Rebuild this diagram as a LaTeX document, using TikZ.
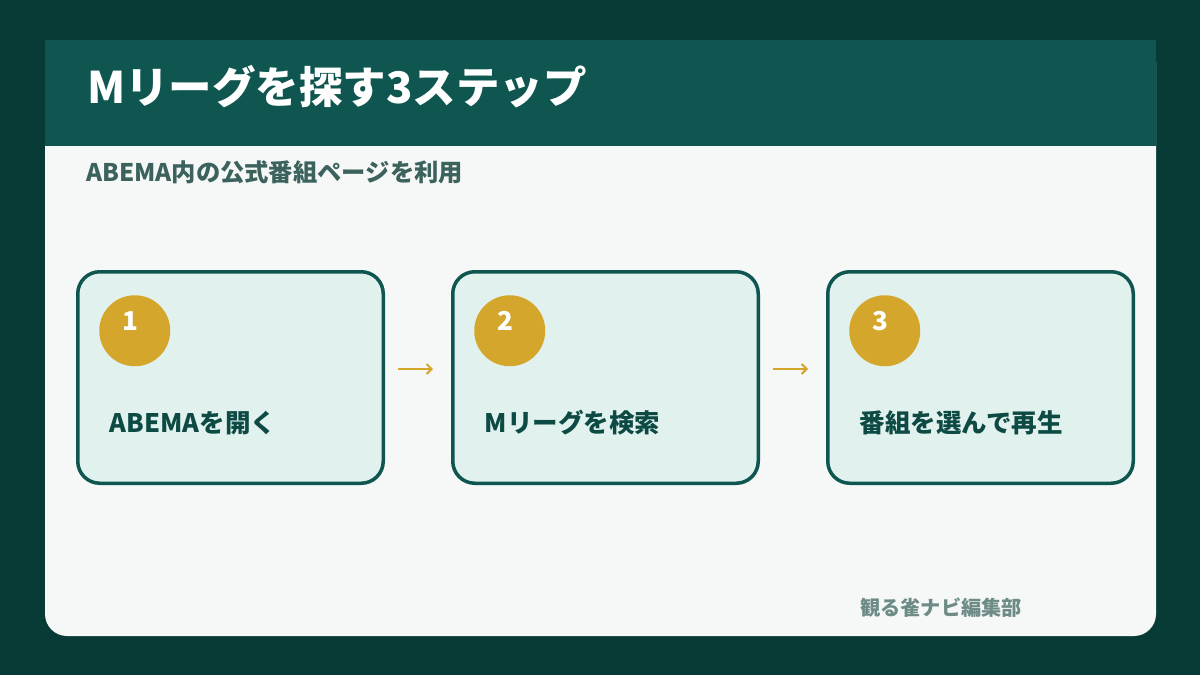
\documentclass[tikz,border=0pt]{standalone}
\usepackage{fontspec}
\setmainfont{Noto Sans CJK JP}
\usepackage{tikz}
\usetikzlibrary{shapes,arrows,arrows.meta,positioning,calc}
\definecolor{PageDark}{RGB}{8, 59, 54}
\definecolor{HeaderTeal}{RGB}{14, 86, 79}
\definecolor{PanelWhite}{RGB}{246, 248, 248}
\definecolor{CardMint}{RGB}{224, 241, 238}
\definecolor{StepGold}{RGB}{212, 167, 44}
\definecolor{LabelTeal}{RGB}{14, 74, 68}
\definecolor{SubTeal}{RGB}{60, 98, 93}
\definecolor{FootGray}{RGB}{110, 140, 135}

\tikzset{
  card/.style={draw=HeaderTeal, fill=CardMint, line width=3.5pt, rounded corners=22pt,
    minimum width=305.5pt, minimum height=211.5pt, outer sep=0pt, inner sep=0pt},
  stepnum/.style={circle, fill=StepGold, minimum size=71pt, inner sep=0pt,
    text=white, font=\bfseries\fontsize{26}{26}\selectfont},
  steplabel/.style={anchor=west, inner sep=0pt, text=LabelTeal,
    font=\bfseries\fontsize{25.5}{25.5}\selectfont},
  steparrow/.style={StepGold, line width=2pt, -{Straight Barb[length=5pt, width=10pt]}}
}

\begin{document}
\begin{tikzpicture}[x=1pt, y=-1pt]
  \useasboundingbox (0, 0) rectangle (1200, 675);

  % Background and panel
  \fill[PageDark] (0, 0) rectangle (1200, 675);
  \fill[PanelWhite, rounded corners=22pt] (45, 40) rectangle (1156, 636);
  \fill[HeaderTeal] (45, 40) rectangle (1156, 146);

  % Header texts
  \node[anchor=west, inner sep=0pt, text=white, font=\bfseries\fontsize{43.5}{43.5}\selectfont]
    (title) at (87, 87) {Mリーグを探す3ステップ};
  \node[anchor=west, inner sep=0pt, text=SubTeal, font=\bfseries\fontsize{24.3}{24.3}\selectfont]
    (subtitle) at (86, 172) {ABEMA内の公式番組ページを利用};

  % Step cards
  \node[card] (card1) at (230.5, 377.5) {};
  \node[card, right=69.5pt of card1] (card2) {};
  \node[card, right=69.5pt of card2] (card3) {};

  % Numbers and labels
  \foreach \i/\txt in {1/ABEMAを開く, 2/Mリーグを検索, 3/番組を選んで再生} {
    \node[stepnum] (num\i) at ($(card\i.north west)+(57, 59)$)
      {\raisebox{0pt}[0pt][0pt]{\makebox[0pt]{\i\hspace*{9pt}}}};
    \node[steplabel] (label\i) at ($(card\i.north west)+(32, 151)$) {\txt};
  }

  % Arrows between cards
  \draw[steparrow, shorten <=14.75pt, shorten >=19.75pt]
    ([yshift=8.5pt]card1.east) -- ([yshift=8.5pt]card2.west);
  \draw[steparrow, shorten <=14.75pt, shorten >=19.75pt]
    ([yshift=8.5pt]card2.east) -- ([yshift=8.5pt]card3.west);

  % Footer
  \node[anchor=west, inner sep=0pt, text=FootGray, font=\bfseries\fontsize{20.2}{20.2}\selectfont]
    (footer) at (860, 608) {観る雀ナビ編集部};
\end{tikzpicture}
\end{document}
